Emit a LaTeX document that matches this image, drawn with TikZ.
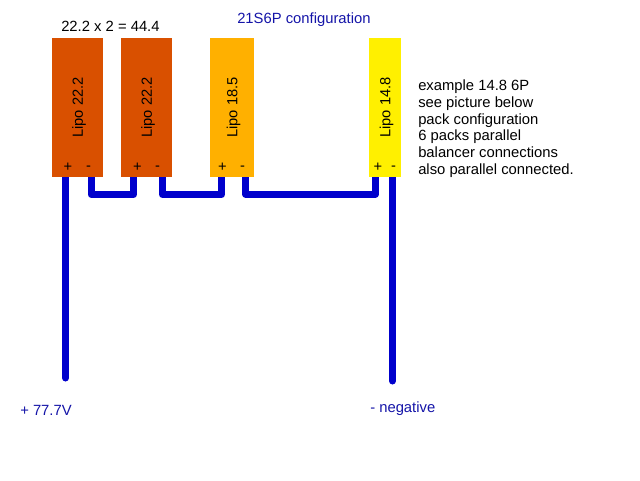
\documentclass[tikz,border=0pt]{standalone}
\usepackage{xcolor}
\usepackage{fontspec}
\setmainfont{Liberation Sans}
\usepackage{tikz}
\usetikzlibrary{backgrounds}
\definecolor{lipored}{HTML}{D95000}
\definecolor{lipoorange}{HTML}{FFB000}
\definecolor{lipoyellow}{HTML}{FFF000}
\definecolor{wireblue}{HTML}{0000CC}
\definecolor{textblue}{HTML}{1414A8}
\tikzset{
  pack/.style={rotate=90, minimum width=104.25pt, inner sep=0pt, text depth=0pt, text=black, font=\fontsize{11}{13}\selectfont},
  pole/.style={inner sep=0pt, text=black, font=\fontsize{11}{13}\selectfont},
  note/.style={inner sep=0pt, anchor=west, font=\fontsize{11.1}{12.6}\selectfont},
  wire/.style={wireblue, line width=5.25pt, line cap=round, line join=round}
}

\begin{document}
\begin{tikzpicture} [x=.75pt,y=-.75pt]
\useasboundingbox (0,0) rectangle (640,480);
\node[pack, fill=lipored, minimum height=38.25pt] (packA) at (77.5,107.5) {Lipo 22.2};
\node[pack, fill=lipored, minimum height=38.25pt] (packB) at (146.5,107.5) {Lipo 22.2};
\node[pack, fill=lipoorange, minimum height=33pt] (packC) at (232,107.5) {Lipo 18.5};
\node[pack, fill=lipoyellow, minimum height=24pt] (packD) at (385,107.5) {Lipo 14.8};
\node[pole] (plusA) at (68,167) {+};
\node[pole] (minusA) at (88.5,168.5) {-};
\node[pole] (plusB) at (137.5,167) {+};
\node[pole] (minusB) at (157.5,168.5) {-};
\node[pole] (plusC) at (222.5,167) {+};
\node[pole] (minusC) at (242.5,168.5) {-};
\node[pole] (plusD) at (378,167) {+};
\node[pole] (minusD) at (393.5,168.5) {-};
% terminals under the packs
\coordinate (tA) at (65.5,170);
\coordinate (tB) at (91,170);
\coordinate (tC) at (133.5,170);
\coordinate (tD) at (162.5,170);
\coordinate (tE) at (221.5,170);
\coordinate (tF) at (245.5,170);
\coordinate (tG) at (375.5,170);
\coordinate (tH) at (392.5,170);
\coordinate (endA) at (65.5,378);
\coordinate (endH) at (392.5,381);
\begin{scope}[on background layer]
\draw[wire] (tA) -- (endA);
\draw[wire] (tB) -- (91,194.5) -- (133.5,194.5) -- (tC);
\draw[wire] (tD) -- (162.5,194.5) -- (221.5,194.5) -- (tE);
\draw[wire] (tF) -- (245.5,194) -- (375.5,194) -- (tG);
\draw[wire] (tH) -- (endH);
\end{scope}
\node[note, text=black] (sumtext) at (61,26) {22.2 x 2 = 44.4};
\node[note, text=textblue] (titletext) at (237,20) {21S6P configuration};
\node[note, text=black, align=left, anchor=north west] (exampletext) at (418,79.5) {example 14.8 6P\\see picture below\\pack configuration\\6 packs parallel\\balancer connections\\also parallel connected.};
\node[note, text=textblue] (plustext) at (20,410) {+ 77.7V};
\node[note, text=textblue] (negtext) at (370,408.5) {- negative};
\end{tikzpicture}
\end{document}
